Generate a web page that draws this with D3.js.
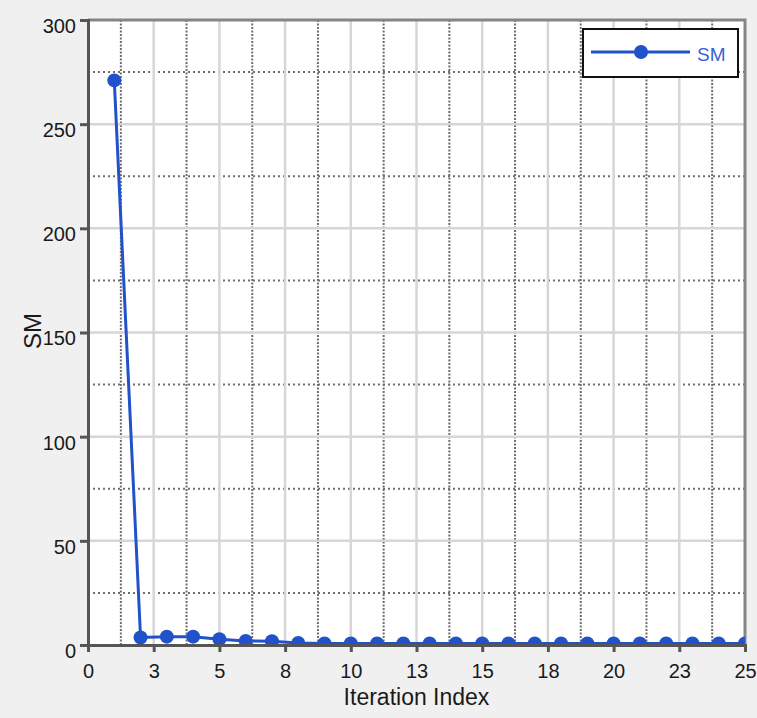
<!DOCTYPE html>
<html>
<head>
<meta charset="utf-8">
<script src="https://cdn.jsdelivr.net/npm/d3@7"></script>
<style>
  body { margin: 0; background: #f0f0f0; }
  text { font-family: Arial, "Liberation Sans", sans-serif; }
</style>
</head>
<body>
<script>
var iterations = [1, 2, 3, 4, 5, 6, 7, 8, 9, 10, 11, 12, 13, 14, 15, 16, 17, 18, 19, 20, 21, 22, 23, 24, 25];
var smValues = [271, 3.6, 4.0, 4.0, 2.8, 1.9, 1.8, 1.0, 0.7, 0.7, 0.7, 0.7, 0.7, 0.7, 0.7, 0.7, 0.7, 0.7, 0.7, 0.7, 0.7, 0.7, 0.7, 0.7, 0.7];

var xTicks = [0, 2.5, 5, 7.5, 10, 12.5, 15, 17.5, 20, 22.5, 25];
var xTickLabels = ["0", "3", "5", "8", "10", "13", "15", "18", "20", "23", "25"];
var yTicks = [0, 50, 100, 150, 200, 250, 300];
var seriesName = "SM";

var outerWidth = 757;
var outerHeight = 718;
var plotLeft = 88;
var plotRight = 745;
var plotTop = 20;
var plotBottom = 645;

var blue = "#2152c9";

var x = d3.scaleLinear().domain([0, 25]).range([plotLeft, plotRight]);
var y = d3.scaleLinear().domain([0, 300]).range([plotBottom, plotTop]);

var svg = d3.select("body").append("svg")
    .attr("width", outerWidth)
    .attr("height", outerHeight);

svg.append("rect")
    .attr("width", outerWidth)
    .attr("height", outerHeight)
    .attr("fill", "#f0f0f0");

svg.append("defs").append("clipPath")
    .attr("id", "plotclip")
    .append("rect")
    .attr("x", plotLeft)
    .attr("y", plotTop)
    .attr("width", plotRight - plotLeft)
    .attr("height", plotBottom - plotTop);

svg.append("rect")
    .attr("x", plotLeft)
    .attr("y", plotTop)
    .attr("width", plotRight - plotLeft)
    .attr("height", plotBottom - plotTop)
    .attr("fill", "#fff");

// minor dotted grid (midway between major ticks)
var xMinor = xTicks.slice(0, -1).map(function(d, i) { return (d + xTicks[i + 1]) / 2; });
var yMinor = yTicks.slice(0, -1).map(function(d, i) { return (d + yTicks[i + 1]) / 2; });

svg.append("g").selectAll("line")
    .data(xMinor)
    .enter().append("line")
    .attr("x1", function(d) { return x(d); })
    .attr("x2", function(d) { return x(d); })
    .attr("y1", plotTop)
    .attr("y2", plotBottom)
    .attr("stroke", "#6e6e6e")
    .attr("stroke-width", 2)
    .attr("stroke-dasharray", "2,1.5");

svg.append("g").selectAll("line")
    .data(yMinor)
    .enter().append("line")
    .attr("x1", plotLeft)
    .attr("x2", plotRight)
    .attr("y1", function(d) { return y(d); })
    .attr("y2", function(d) { return y(d); })
    .attr("stroke", "#6e6e6e")
    .attr("stroke-width", 2)
    .attr("stroke-dasharray", "2,3");

// major solid grid
svg.append("g").selectAll("line")
    .data(xTicks.slice(1, -1))
    .enter().append("line")
    .attr("x1", function(d) { return x(d); })
    .attr("x2", function(d) { return x(d); })
    .attr("y1", plotTop)
    .attr("y2", plotBottom)
    .attr("stroke", "#d6d6d6")
    .attr("stroke-width", 2.5);

svg.append("g").selectAll("line")
    .data(yTicks.slice(1, -1))
    .enter().append("line")
    .attr("x1", plotLeft)
    .attr("x2", plotRight)
    .attr("y1", function(d) { return y(d); })
    .attr("y2", function(d) { return y(d); })
    .attr("stroke", "#d6d6d6")
    .attr("stroke-width", 2.5);

// top / right border
svg.append("path")
    .attr("d", "M" + plotLeft + "," + plotTop + "H" + plotRight + "V" + plotBottom)
    .attr("fill", "none")
    .attr("stroke", "#858585")
    .attr("stroke-width", 3);

// series
var points = iterations.map(function(d, i) { return { it: d, v: smValues[i] }; });

var series = svg.append("g").attr("clip-path", "url(#plotclip)");

series.append("path")
    .datum(points)
    .attr("fill", "none")
    .attr("stroke", blue)
    .attr("stroke-width", 3)
    .attr("d", d3.line()
        .x(function(d) { return x(d.it); })
        .y(function(d) { return y(d.v); }));

series.selectAll("circle")
    .data(points)
    .enter().append("circle")
    .attr("cx", function(d) { return x(d.it); })
    .attr("cy", function(d) { return y(d.v); })
    .attr("r", 7)
    .attr("fill", blue);

// axes
var xAxis = d3.axisBottom(x)
    .tickValues(xTicks)
    .tickFormat(function(d, i) { return xTickLabels[i]; })
    .tickSize(7)
    .tickPadding(12);

var yAxis = d3.axisLeft(y)
    .tickValues(yTicks)
    .tickSize(8)
    .tickPadding(4);

var gx = svg.append("g")
    .attr("transform", "translate(0," + plotBottom + ")")
    .call(xAxis);

var gy = svg.append("g")
    .attr("transform", "translate(" + plotLeft + ",0)")
    .call(yAxis);

[gx, gy].forEach(function(g) {
    g.select(".domain").attr("stroke", "#555").attr("stroke-width", 3);
    g.selectAll(".tick line").attr("stroke", "#555").attr("stroke-width", 3);
    g.selectAll(".tick text")
        .attr("fill", "#1a1a1a")
        .style("font-size", "20px");
});
gy.selectAll(".tick text").attr("dy", "0.62em");

svg.append("text")
    .attr("x", (plotLeft + plotRight) / 2)
    .attr("y", 705)
    .attr("text-anchor", "middle")
    .attr("fill", "#1a1a1a")
    .style("font-size", "23px")
    .text("Iteration Index");

svg.append("text")
    .attr("transform", "translate(41,331) rotate(-90)")
    .attr("text-anchor", "middle")
    .attr("fill", "#1a1a1a")
    .style("font-size", "24px")
    .text(seriesName);

// legend
var legend = svg.append("g").attr("transform", "translate(583,29)");

legend.append("rect")
    .attr("width", 155)
    .attr("height", 48)
    .attr("fill", "#fff")
    .attr("stroke", "#111")
    .attr("stroke-width", 2);

legend.append("line")
    .attr("x1", 8)
    .attr("x2", 107)
    .attr("y1", 23)
    .attr("y2", 23)
    .attr("stroke", blue)
    .attr("stroke-width", 3);

legend.append("circle")
    .attr("cx", 58)
    .attr("cy", 23)
    .attr("r", 7)
    .attr("fill", blue);

legend.append("text")
    .attr("x", 114)
    .attr("y", 32)
    .attr("fill", "#3a5fd6")
    .style("font-size", "19px")
    .text(seriesName);
</script>
</body>
</html>
